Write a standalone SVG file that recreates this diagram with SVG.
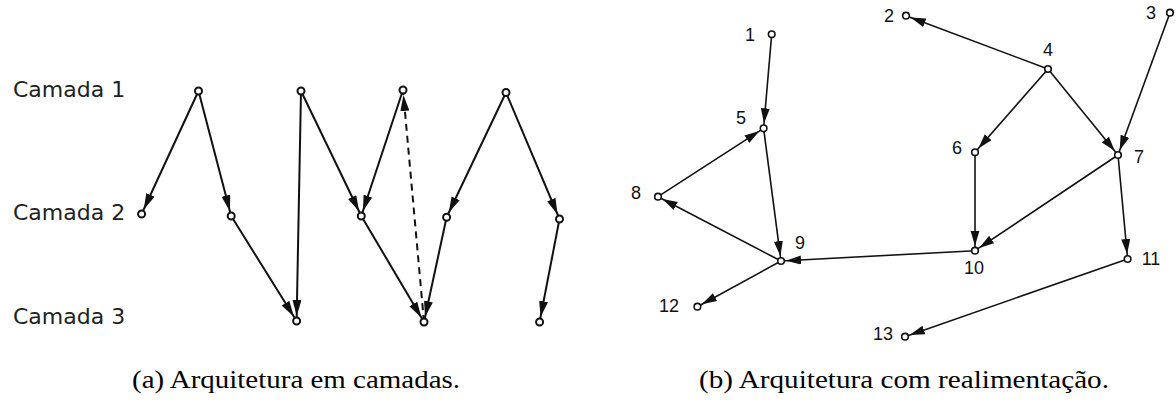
<svg xmlns="http://www.w3.org/2000/svg" width="1176" height="403" viewBox="0 0 1176 403">
<style>
.lbl{font-family:"DejaVu Sans",sans-serif;font-size:22px;fill:#222}
.num{font-family:"Liberation Sans",Arial,sans-serif;font-size:18px;fill:#111;text-anchor:middle}
.cap{font-family:"Liberation Serif","Times New Roman",serif;font-size:26px;fill:#000}
.el{stroke:#111;stroke-width:2;fill:none;marker-end:url(#arL)}
.er{stroke:#111;stroke-width:1.6;fill:none;marker-end:url(#arR)}
.dash{stroke-dasharray:7 5}
.n{fill:#fff;stroke:#111;stroke-width:2}
.nr{fill:#fff;stroke:#111;stroke-width:1.6}
</style>
<defs>
<marker id="arL" markerUnits="userSpaceOnUse" markerWidth="24" markerHeight="10" refX="21" refY="4.5" orient="auto"><path d="M0,0 L16,4.5 L0,9 z" fill="#111"/></marker>
<marker id="arR" markerUnits="userSpaceOnUse" markerWidth="24" markerHeight="10" refX="20" refY="4.5" orient="auto"><path d="M0,0 L15,4.5 L0,9 z" fill="#111"/></marker>
</defs>
<rect width="1176" height="403" fill="#fff"/>
<g id="labels-left">
<text class="lbl" x="13" y="97">Camada 1</text>
<text class="lbl" x="13" y="220">Camada 2</text>
<text class="lbl" x="13" y="324">Camada 3</text>
</g>
<g id="connectors">
<line class="el" x1="198.5" y1="91" x2="141.6" y2="214"/>
<line class="el" x1="198.5" y1="91" x2="231.2" y2="216"/>
<line class="el" x1="231.2" y1="216" x2="296.6" y2="321"/>
<line class="el" x1="301" y1="91" x2="296.6" y2="321"/>
<line class="el" x1="301" y1="91" x2="361.3" y2="216"/>
<line class="el" x1="403" y1="90" x2="361.3" y2="216"/>
<line class="el" x1="361.3" y1="216" x2="424" y2="322"/>
<line class="el dash" x1="424" y1="322" x2="403" y2="90"/>
<line class="el" x1="506" y1="92.5" x2="446.6" y2="217.3"/>
<line class="el" x1="446.6" y1="217.3" x2="424" y2="322"/>
<line class="el" x1="506" y1="92.5" x2="559.5" y2="219"/>
<line class="el" x1="559.5" y1="219" x2="539.6" y2="322"/>
<line class="er" x1="771.7" y1="34.3" x2="763.6" y2="128.3"/>
<line class="er" x1="763.6" y1="128.3" x2="781" y2="261"/>
<line class="er" x1="658" y1="196.7" x2="763.6" y2="128.3"/>
<line class="er" x1="781" y1="261" x2="658" y2="196.7"/>
<line class="er" x1="781" y1="261" x2="697.4" y2="306.7"/>
<line class="er" x1="975" y1="250.7" x2="781" y2="261"/>
<line class="er" x1="1048" y1="69" x2="906" y2="15.7"/>
<line class="er" x1="1048" y1="69" x2="975" y2="152.3"/>
<line class="er" x1="1048" y1="69" x2="1118" y2="155"/>
<line class="er" x1="1170" y1="12.7" x2="1118" y2="155"/>
<line class="er" x1="975" y1="152.3" x2="975" y2="250.7"/>
<line class="er" x1="1118" y1="155" x2="975" y2="250.7"/>
<line class="er" x1="1118" y1="155" x2="1127.6" y2="259"/>
<line class="er" x1="1127.6" y1="259" x2="905" y2="336.7"/>
</g>
<g id="layer1-a"><circle class="n" cx="198.5" cy="91" r="3.5"/></g>
<g id="layer1-b"><circle class="n" cx="301" cy="91" r="3.5"/></g>
<g id="layer1-c"><circle class="n" cx="403" cy="90" r="3.5"/></g>
<g id="layer1-d"><circle class="n" cx="506" cy="92.5" r="3.5"/></g>
<g id="layer2-a"><circle class="n" cx="141.6" cy="214" r="3.5"/></g>
<g id="layer2-b"><circle class="n" cx="231.2" cy="216" r="3.5"/></g>
<g id="layer2-c"><circle class="n" cx="361.3" cy="216" r="3.5"/></g>
<g id="layer2-d"><circle class="n" cx="446.6" cy="217.3" r="3.5"/></g>
<g id="layer2-e"><circle class="n" cx="559.5" cy="219" r="3.5"/></g>
<g id="layer3-a"><circle class="n" cx="296.6" cy="321" r="3.5"/></g>
<g id="layer3-b"><circle class="n" cx="424" cy="322" r="3.5"/></g>
<g id="layer3-c"><circle class="n" cx="539.6" cy="322" r="3.5"/></g>
<g id="node1"><circle class="nr" cx="771.7" cy="34.3" r="3.3"/><text class="num" x="750" y="41">1</text></g>
<g id="node2"><circle class="nr" cx="906" cy="15.7" r="3.3"/><text class="num" x="889" y="22">2</text></g>
<g id="node3"><circle class="nr" cx="1170" cy="12.7" r="3.3"/><text class="num" x="1151" y="19">3</text></g>
<g id="node4"><circle class="nr" cx="1048" cy="69" r="3.3"/><text class="num" x="1048" y="56">4</text></g>
<g id="node5"><circle class="nr" cx="763.6" cy="128.3" r="3.3"/><text class="num" x="741" y="124">5</text></g>
<g id="node6"><circle class="nr" cx="975" cy="152.3" r="3.3"/><text class="num" x="957" y="154">6</text></g>
<g id="node7"><circle class="nr" cx="1118" cy="155" r="3.3"/><text class="num" x="1139" y="163">7</text></g>
<g id="node8"><circle class="nr" cx="658" cy="196.7" r="3.3"/><text class="num" x="636" y="199">8</text></g>
<g id="node9"><circle class="nr" cx="781" cy="261" r="3.3"/><text class="num" x="800" y="249">9</text></g>
<g id="node10"><circle class="nr" cx="975" cy="250.7" r="3.3"/><text class="num" x="974" y="274">10</text></g>
<g id="node11"><circle class="nr" cx="1127.6" cy="259" r="3.3"/><text class="num" x="1151" y="265">11</text></g>
<g id="node12"><circle class="nr" cx="697.4" cy="306.7" r="3.3"/><text class="num" x="669" y="312">12</text></g>
<g id="node13"><circle class="nr" cx="905" cy="336.7" r="3.3"/><text class="num" x="883" y="340">13</text></g>
<g id="captions">
<text class="cap" x="132" y="388" textLength="328" lengthAdjust="spacingAndGlyphs">(a) Arquitetura em camadas.</text>
<text class="cap" x="699" y="388" textLength="410" lengthAdjust="spacingAndGlyphs">(b) Arquitetura com realimentação.</text>
</g>
</svg>
